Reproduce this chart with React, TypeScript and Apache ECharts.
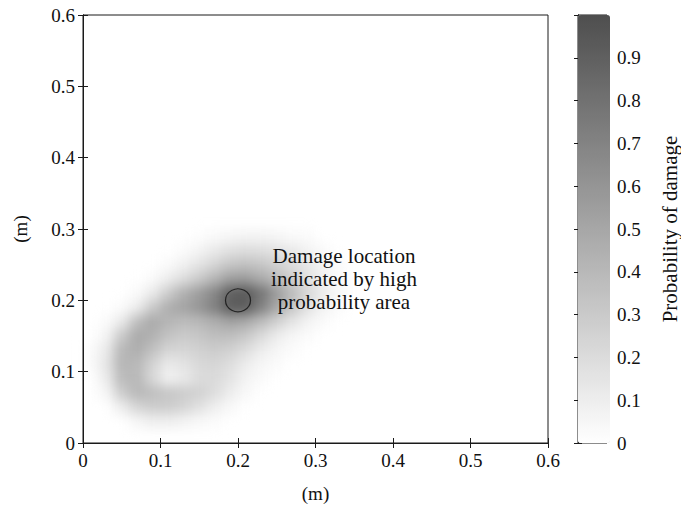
import React, { useEffect, useRef } from "react";
import * as echarts from "echarts";

// Axis ticks
const axisTicks = [0, 0.1, 0.2, 0.3, 0.4, 0.5, 0.6];
const colorbarTicks = [0, 0.1, 0.2, 0.3, 0.4, 0.5, 0.6, 0.7, 0.8, 0.9];

const cellX = [0.01, 0.03, 0.05, 0.07, 0.09, 0.11, 0.13, 0.15, 0.17, 0.19, 0.21, 0.23, 0.25, 0.27, 0.29, 0.31, 0.33, 0.35];
const cellY = [0.29, 0.27, 0.25, 0.23, 0.21, 0.19, 0.17, 0.15, 0.13, 0.11, 0.09, 0.07, 0.05, 0.03];
const row029 = [0, 0, 0, 0, 0, 0, 0, 0.01, 0.03, 0.05, 0.06, 0.06, 0.05, 0.03, 0.02, 0, 0, 0];
const row027 = [0, 0, 0, 0, 0, 0, 0.02, 0.06, 0.12, 0.17, 0.19, 0.18, 0.15, 0.12, 0.07, 0.03, 0, 0];
const row025 = [0, 0, 0, 0, 0, 0.03, 0.08, 0.15, 0.24, 0.32, 0.35, 0.32, 0.26, 0.2, 0.13, 0.06, 0.02, 0];
const row023 = [0, 0, 0, 0, 0.03, 0.1, 0.19, 0.3, 0.42, 0.54, 0.56, 0.48, 0.38, 0.27, 0.17, 0.08, 0.03, 0];
const row021 = [0, 0, 0, 0.03, 0.12, 0.28, 0.44, 0.55, 0.68, 0.9, 0.94, 0.78, 0.56, 0.38, 0.22, 0.11, 0.04, 0];
const row019 = [0, 0, 0.02, 0.1, 0.3, 0.46, 0.52, 0.6, 0.72, 0.92, 0.92, 0.72, 0.5, 0.32, 0.17, 0.07, 0.02, 0];
const row017 = [0, 0.02, 0.12, 0.36, 0.48, 0.42, 0.38, 0.4, 0.46, 0.52, 0.48, 0.38, 0.26, 0.15, 0.07, 0.03, 0, 0];
const row015 = [0, 0.06, 0.3, 0.48, 0.44, 0.34, 0.3, 0.32, 0.37, 0.37, 0.31, 0.21, 0.11, 0.05, 0.02, 0, 0, 0];
const row013 = [0.02, 0.12, 0.4, 0.46, 0.35, 0.24, 0.23, 0.26, 0.29, 0.26, 0.19, 0.11, 0.05, 0.02, 0, 0, 0, 0];
const row011 = [0.02, 0.14, 0.42, 0.4, 0.25, 0.12, 0.16, 0.22, 0.24, 0.19, 0.11, 0.05, 0.02, 0, 0, 0, 0, 0];
const row009 = [0, 0.11, 0.38, 0.4, 0.22, 0.08, 0.12, 0.2, 0.21, 0.15, 0.07, 0.03, 0, 0, 0, 0, 0, 0];
const row007 = [0, 0.05, 0.28, 0.4, 0.37, 0.32, 0.29, 0.26, 0.19, 0.1, 0.04, 0, 0, 0, 0, 0, 0, 0];
const row005 = [0, 0, 0.1, 0.23, 0.28, 0.28, 0.24, 0.17, 0.09, 0.04, 0, 0, 0, 0, 0, 0, 0, 0];
const row003 = [0, 0, 0, 0.05, 0.09, 0.09, 0.07, 0.04, 0.02, 0, 0, 0, 0, 0, 0, 0, 0, 0];
const probRows = [row029, row027, row025, row023, row021, row019, row017, row015, row013, row011, row009, row007, row005, row003];

// Damage location marker
const damageX = [0.2];
const damageY = [0.2];

const SERIF = "'Liberation Serif', 'DejaVu Serif', serif";
const INK = "#111111";
const GRAYS = ["#ffffff", "#4e4e4e"];
const CELL = 0.02;
const NBINS = Math.round(0.6 / CELL);

const PLOT = { left: 83, top: 15, width: 465, height: 428 };

export default function App() {
  const baseRef = useRef<HTMLDivElement>(null);
  const topRef = useRef<HTMLDivElement>(null);

  useEffect(() => {
    const base = echarts.init(baseRef.current!, undefined, { renderer: "svg" });
    const top = echarts.init(topRef.current!, undefined, { renderer: "svg" });

    const bins = Array.from({ length: NBINS }, (_, i) => String(i));
    const heat: number[][] = [];
    probRows.forEach((row, r) => {
      row.forEach((v, c) => {
        if (v > 0) {
          heat.push([Math.round((cellX[c] - CELL / 2) / CELL), Math.round((cellY[r] - CELL / 2) / CELL), v]);
        }
      });
    });

    base.setOption({
      animation: false,
      grid: { ...PLOT, show: false },
      xAxis: { type: "category", data: bins, show: false },
      yAxis: { type: "category", data: bins, show: false },
      visualMap: {
        show: false,
        type: "continuous",
        min: 0,
        max: 1,
        inRange: { color: GRAYS },
      },
      series: [
        {
          type: "heatmap",
          data: heat,
          itemStyle: { borderWidth: 0 },
          emphasis: { disabled: true },
        },
      ],
    });

    const tickLabel = (v: number) => String(Number(v.toFixed(1)));
    const mainLabel = { fontFamily: SERIF, fontSize: 19, color: INK, margin: 8, formatter: tickLabel };
    const lineStyle = { color: "#1a1a1a", width: 1 };

    top.setOption({
      animation: false,
      grid: [
        { ...PLOT, show: true, borderColor: "#1a1a1a", borderWidth: 1, backgroundColor: "transparent" },
        { left: 578, top: 15, width: 32, height: 428, show: true, borderColor: "#1a1a1a", borderWidth: 1, backgroundColor: "transparent" },
      ],
      xAxis: [
        {
          gridIndex: 0, type: "value", min: axisTicks[0], max: axisTicks[axisTicks.length - 1], interval: 0.1,
          position: "bottom", name: "(m)", nameLocation: "middle", nameGap: 41,
          nameTextStyle: { fontFamily: SERIF, fontSize: 19, color: INK },
          axisLine: { show: true, lineStyle }, axisTick: { show: true, inside: true, length: 5, lineStyle },
          axisLabel: mainLabel, splitLine: { show: false },
        },
        {
          gridIndex: 0, type: "value", min: 0, max: 0.6, interval: 0.1, position: "top",
          axisLine: { show: true, lineStyle }, axisTick: { show: true, inside: true, length: 5, lineStyle },
          axisLabel: { show: false }, splitLine: { show: false },
        },
        { gridIndex: 1, type: "value", min: 0, max: 1, show: false },
      ],
      yAxis: [
        {
          gridIndex: 0, type: "value", min: axisTicks[0], max: axisTicks[axisTicks.length - 1], interval: 0.1,
          position: "left", name: "(m)", nameLocation: "middle", nameGap: 53, nameRotate: 90,
          nameTextStyle: { fontFamily: SERIF, fontSize: 19, color: INK },
          axisLine: { show: true, lineStyle }, axisTick: { show: true, inside: true, length: 5, lineStyle },
          axisLabel: mainLabel, splitLine: { show: false },
        },
        {
          gridIndex: 0, type: "value", min: 0, max: 0.6, interval: 0.1, position: "right",
          axisLine: { show: true, lineStyle }, axisTick: { show: true, inside: true, length: 5, lineStyle },
          axisLabel: { show: false }, splitLine: { show: false },
        },
        {
          gridIndex: 1, type: "value", min: 0, max: 1, interval: 0.1, position: "right",
          name: "Probability of damage", nameLocation: "middle", nameGap: 52, nameRotate: 90,
          nameTextStyle: { fontFamily: SERIF, fontSize: 21, color: INK },
          axisLine: { show: true, lineStyle }, axisTick: { show: true, inside: true, length: 4, lineStyle },
          axisLabel: {
            fontFamily: SERIF, fontSize: 19, color: INK, margin: 10,
            formatter: (v: number) => (colorbarTicks.some((t) => Math.abs(t - v) < 1e-6) ? tickLabel(v) : ""),
          },
          splitLine: { show: false },
        },
        {
          gridIndex: 1, type: "value", min: 0, max: 1, interval: 0.1, position: "left",
          axisLine: { show: true, lineStyle }, axisTick: { show: true, inside: true, length: 4, lineStyle },
          axisLabel: { show: false }, splitLine: { show: false },
        },
      ],
      visualMap: {
        type: "continuous",
        min: 0,
        max: 1,
        seriesIndex: [],
        left: 578,
        top: 15,
        itemWidth: 32,
        itemHeight: 428,
        padding: 0,
        calculable: false,
        hoverLink: false,
        inRange: { color: GRAYS },
      },
      series: [
        {
          type: "scatter",
          xAxisIndex: 0,
          yAxisIndex: 0,
          data: damageX.map((x, i) => [x, damageY[i]]),
          symbol: "circle",
          symbolSize: [25, 23],
          itemStyle: { color: "transparent", borderColor: "#111", borderWidth: 1.2 },
          emphasis: { disabled: true },
          silent: true,
          z: 5,
        },
      ],
      graphic: [
        {
          type: "text",
          x: 344,
          y: 244,
          style: {
            text: "Damage location\nindicated by high\nprobability area",
            font: `21px ${SERIF}`,
            fill: INK,
            align: "center",
            verticalAlign: "top",
            lineHeight: 23,
          },
          z: 10,
        },
      ],
    });

    return () => {
      base.dispose();
      top.dispose();
    };
  }, []);

  return (
    <div style={{ position: "fixed", left: 0, top: 0, width: 681, height: 508, background: "#fff" }}>
      <div
        ref={baseRef}
        style={{ position: "absolute", left: 0, top: 0, width: 681, height: 508, filter: "blur(6px)" }}
      />
      <div ref={topRef} style={{ position: "absolute", left: 0, top: 0, width: 681, height: 508 }} />
    </div>
  );
}
